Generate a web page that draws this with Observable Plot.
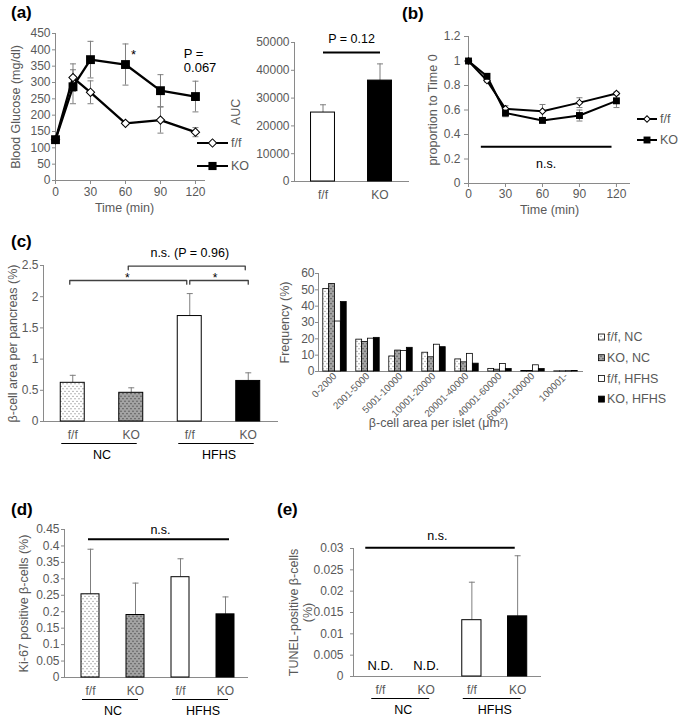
<!DOCTYPE html>
<html><head><meta charset="utf-8">
<script src="https://cdn.jsdelivr.net/npm/d3@7"></script>
<script src="https://cdn.jsdelivr.net/npm/@observablehq/plot@0.6"></script>
<style>
body{margin:0;background:#fff;}
#root{position:relative;width:685px;height:717px;overflow:hidden;font-family:"Liberation Sans",Arial,Helvetica,sans-serif;background:#fff;}
#root > svg{position:absolute;left:0;top:0;}
.lab{position:absolute;font-weight:bold;font-size:17px;color:#000;line-height:1;}
</style></head><body>
<svg width="0" height="0" style="position:absolute">
<defs>
<pattern id="dotW" width="4" height="5" patternUnits="userSpaceOnUse"><rect width="4" height="5" fill="#fff"/><circle cx="1" cy="1.2" r="0.55" fill="#555"/><circle cx="3" cy="3.7" r="0.55" fill="#555"/></pattern>
<pattern id="dotG" width="4" height="5" patternUnits="userSpaceOnUse"><rect width="4" height="5" fill="#a3a3a3"/><circle cx="1" cy="1.2" r="0.6" fill="#333"/><circle cx="3" cy="3.7" r="0.6" fill="#333"/></pattern>
</defs></svg>
<div id="root"></div>
<script>
// ---------- DATA ----------
// (a) glucose tolerance
const timesMin = [0, 15, 30, 60, 90, 120];
const glucoseFF = [125, 315, 270, 175, 185, 148];
const glucoseFFErr = [8, 42, 35, 5, 40, 14];
const glucoseKO = [125, 287, 370, 355, 275, 257];
const glucoseKOErr = [8, 52, 56, 63, 49, 47];
const glucoseTicks = [0, 50, 100, 150, 200, 250, 300, 350, 400, 450];
const timeTicks = [0, 30, 60, 90, 120];
const genotypes = ["f/f", "KO"];
const glucoseStar = [{t: 67, v: 385, label: "*"}];
const glucoseP = [{t: 110, v: 367, label: "P =\n0.067"}];
// (a) AUC
const aucValues = [24800, 36300];
const aucErr = [2800, 6000];
const aucTicks = [0, 10000, 20000, 30000, 40000, 50000];
const aucP = [{from: "f/f", to: "KO", y: 46400, label: "P = 0.12"}];
// (b) insulin tolerance
const ratioFF = [1, 0.84, 0.61, 0.59, 0.66, 0.735];
const ratioFFErr = [0, 0.012, 0.025, 0.055, 0.04, 0.012];
const ratioKO = [1, 0.875, 0.575, 0.515, 0.555, 0.675];
const ratioKOErr = [0, 0.012, 0.03, 0.018, 0.045, 0.055];
const ratioTicks = [0, 0.2, 0.4, 0.6, 0.8, 1, 1.2];
const ratioNS = [{t1: 10, t2: 116, y: 0.3, label: "n.s."}];
// (c)-(e) groups
const groupGenotype = ["f/f", "KO", "f/f", "KO"];
const groupDiet = ["NC", "NC", "HFHS", "HFHS"];
const diets = ["NC", "HFHS"];
const areaPancreas = [0.62, 0.46, 1.69, 0.65];
const areaPancreasErr = [0.12, 0.08, 0.36, 0.13];
const areaTicks = [0, 0.5, 1, 1.5, 2, 2.5];
const areaBrackets = [
  {from: 0, to: 2, y: 2.26, label: "*"},
  {from: 1, to: 3, y: 2.49, label: "n.s. (P = 0.96)"},
  {from: 2, to: 3, y: 2.26, label: "*"}
];
// (c) islet size histogram
const isletBins = ["0-2000", "2001-5000", "5001-10000", "10001-20000", "20001-40000", "40001-60000", "60001-100000", "100001-"];
const histSeries = ["f/f, NC", "KO, NC", "f/f, HFHS", "KO, HFHS"];
const freqFFNC = [50.5, 19.5, 9.2, 11.5, 7.4, 1.6, 0.3, 0.1];
const freqKONC = [53.6, 18.1, 12.8, 8.7, 5.6, 1.1, 0.3, 0.1];
const freqFFHFHS = [30.6, 20.1, 12.6, 16.4, 10.8, 4.6, 3.8, 0.2];
const freqKOHFHS = [42.5, 20.6, 14.5, 14.9, 4.8, 1.5, 1.5, 0.3];
const freqTicks = [0, 10, 20, 30, 40, 50, 60];
// (d) Ki-67
const ki67 = [0.253, 0.190, 0.305, 0.192];
const ki67Err = [0.137, 0.097, 0.056, 0.053];
const ki67Ticks = [0, 0.05, 0.1, 0.15, 0.2, 0.25, 0.3, 0.35, 0.4, 0.45];
const ki67NS = [{from: 0, to: 3, y: 0.42, label: "n.s."}];
// (e) TUNEL
const tunel = [null, null, 0.0132, 0.0141];
const tunelErr = [null, null, 0.0089, 0.0142];
const tunelTicks = [0, 0.005, 0.01, 0.015, 0.02, 0.025, 0.03];
const tunelNS = [{from: 0, to: 3, y: 0.0302, label: "n.s."}];

// ---------- STYLE ----------
const W = 685, H = 717;
const FONT = '"Liberation Sans", Arial, Helvetica, sans-serif';
const AX = "#8a8a8a", TXT = "#595959", ERR = "#7f7f7f";
const groupKeys = groupGenotype.map((g, i) => g + " " + groupDiet[i]);
const genoOf = Object.fromEntries(groupKeys.map((k, i) => [k, groupGenotype[i]]));
const groupFill = {"f/f NC": "url(#dotW)", "KO NC": "url(#dotG)", "f/f HFHS": "#fff", "KO HFHS": "#000"};
const histFill = ["url(#dotW)", "url(#dotG)", "#fff", "#000"];
const fmt = d3.format("~g");
const capSymbol = {draw(ctx, size) { const w = Math.sqrt(size / Math.PI); ctx.moveTo(-w, 0); ctx.lineTo(w, 0); }};

function base(l, r, t, b) {
  return {width: W, height: H, marginLeft: l, marginRight: W - r, marginTop: t, marginBottom: H - b,
    style: {background: "transparent", fontFamily: FONT, fontSize: "12px", color: TXT, overflow: "visible"}};
}
function yTitle(text, dx, extra = {}) {
  return Plot.text([text], {text: d => d, frameAnchor: "left", textAnchor: "middle", rotate: -90, dx, fill: TXT, fontSize: 12.5, ...extra});
}
function errMarks(rows, xk, both) {
  const r = rows.filter(d => d.e);
  const m = [
    Plot.ruleX(r, {x: xk, y1: d => both ? d.v - d.e : d.v, y2: d => d.v + d.e, stroke: ERR, strokeWidth: 1}),
    Plot.dot(r, {x: xk, y: d => d.v + d.e, symbol: capSymbol, r: 3, fill: "none", stroke: ERR, strokeWidth: 1})
  ];
  if (both) m.push(Plot.dot(r, {x: xk, y: d => d.v - d.e, symbol: capSymbol, r: 3, fill: "none", stroke: ERR, strokeWidth: 1}));
  return m;
}
const root = document.getElementById("root");
function add(svg) { root.appendChild(svg); return svg; }

// ---------- (a) glucose line ----------
const glucRows = timesMin.flatMap((t, i) => [
  {t, v: glucoseFF[i], e: glucoseFFErr[i], g: genotypes[0]},
  {t, v: glucoseKO[i], e: glucoseKOErr[i], g: genotypes[1]}]);
add(Plot.plot({...base(55, 205, 33, 180),
  x: {domain: [0, 128.6]}, y: {domain: [0, 450]},
  marks: [
    Plot.ruleY([0], {stroke: AX}), Plot.ruleX([0], {stroke: AX}),
    Plot.axisY({ticks: glucoseTicks, tickSize: 3, tickPadding: 2, label: null, stroke: AX, fill: TXT, fontSize: 12}),
    Plot.axisX({ticks: timeTicks, tickSize: 4, tickPadding: 3, label: null, stroke: AX, fill: TXT, fontSize: 12}),
    ...errMarks(glucRows, "t", true),
    Plot.line(glucRows, {x: "t", y: "v", z: "g", stroke: "#000", strokeWidth: 2.3}),
    Plot.dot(glucRows.filter(d => d.g === "f/f"), {x: "t", y: "v", symbol: "square", rotate: 45, r: 3.3, fill: "#fff", stroke: "#000", strokeWidth: 1}),
    Plot.dot(glucRows.filter(d => d.g === "KO"), {x: "t", y: "v", symbol: "square", r: 5, fill: "#000"}),
    Plot.text(glucoseStar, {x: "t", y: "v", text: "label", fill: "#000", fontSize: 13}),
    Plot.text(glucoseP, {x: "t", y: "v", text: "label", fill: "#000", fontSize: 13, textAnchor: "start", lineHeight: 1.1}),
    yTitle("Blood Glucose (mg/dl)", -40),
    Plot.text(["Time (min)"], {text: d => d, frameAnchor: "bottom", dy: 31, dx: -6, fill: TXT, fontSize: 12.5})
  ]}));

// ---------- (a) AUC ----------
const aucRows = genotypes.map((g, i) => ({k: g, v: aucValues[i], e: aucErr[i]}));
add(Plot.plot({...base(294, 408, 42, 181),
  x: {type: "band", domain: genotypes, paddingInner: 0.58, paddingOuter: 0.29, round: false},
  y: {domain: [0, 50000]}, color: {type: "identity"},
  marks: [
    Plot.frame({anchor: "left", stroke: AX}), Plot.frame({anchor: "bottom", stroke: AX}),
    Plot.axisY({ticks: aucTicks, tickSize: 3, tickPadding: 2, label: null, stroke: AX, fill: TXT, fontSize: 12, tickFormat: fmt}),
    Plot.axisX({tickSize: 0, tickPadding: 9, label: null, fill: TXT, fontSize: 12}),
    ...errMarks(aucRows, "k", false),
    Plot.barY(aucRows, {x: "k", y: "v", fill: d => d.k === "KO" ? "#000" : "#fff", stroke: "#000", strokeWidth: 1}),
    Plot.link(aucP, {x1: "from", x2: "to", y1: "y", y2: "y", stroke: "#000", strokeWidth: 2}),
    Plot.text(aucP, {x: "from", y: "y", text: "label", dx: 28.5, dy: -14, fill: "#000", fontSize: 12.5}),
    yTitle("AUC", -59)
  ]}));

// ---------- (b) ratio line ----------
const ratioRows = timesMin.flatMap((t, i) => [
  {t, v: ratioFF[i], e: ratioFFErr[i], g: genotypes[0]},
  {t, v: ratioKO[i], e: ratioKOErr[i], g: genotypes[1]}]);
add(Plot.plot({...base(468, 630, 36, 183),
  x: {domain: [0, 131.4]}, y: {domain: [0, 1.2]},
  marks: [
    Plot.ruleY([0], {stroke: AX}), Plot.ruleX([0], {stroke: AX}),
    Plot.axisY({ticks: ratioTicks, tickSize: 4, tickPadding: 4, label: null, stroke: AX, fill: TXT, fontSize: 12, tickFormat: fmt}),
    Plot.axisX({ticks: timeTicks, tickSize: 4, tickPadding: 2, label: null, stroke: AX, fill: TXT, fontSize: 12}),
    ...errMarks(ratioRows, "t", true),
    Plot.line(ratioRows, {x: "t", y: "v", z: "g", stroke: "#000", strokeWidth: 2}),
    Plot.dot(ratioRows.filter(d => d.g === "f/f"), {x: "t", y: "v", symbol: "square", rotate: 45, r: 2.6, fill: "#fff", stroke: "#000", strokeWidth: 1}),
    Plot.dot(ratioRows.filter(d => d.g === "KO"), {x: "t", y: "v", symbol: "square", r: 3.9, fill: "#000"}),
    Plot.link(ratioNS, {x1: "t1", x2: "t2", y1: "y", y2: "y", stroke: "#000", strokeWidth: 2}),
    Plot.text(ratioNS, {x: d => (d.t1 + d.t2) / 2, y: "y", text: "label", dy: 17, fill: "#000", fontSize: 12.5}),
    yTitle("proportion to Time 0", -36),
    Plot.text(["Time (min)"], {text: d => d, frameAnchor: "bottom", dy: 30, fill: TXT, fontSize: 12.5})
  ]}));

// ---------- helper for group bar charts (c, d, e) ----------
function groupChart({l, r, t, b, range, pad, domain, ticks, values, errs, title, padY, extra = []}) {
  const rows = groupKeys.map((k, i) => ({k, v: values[i], e: errs[i]}));
  const x0 = range ? range[0] : l, x1 = range ? range[1] : r;
  const step = (x1 - x0) / groupKeys.length;
  const groups = diets.map(d => {
    const idx = groupKeys.map((k, i) => i).filter(i => groupDiet[i] === d);
    return {diet: d, from: groupKeys[idx[0]], to: groupKeys[idx[idx.length - 1]]};
  });
  const marks = [
    Plot.frame({anchor: "left", stroke: AX}), Plot.frame({anchor: "bottom", stroke: AX}),
    Plot.axisY({ticks, tickSize: 3, tickPadding: padY, label: null, stroke: AX, fill: TXT, fontSize: 12, tickFormat: fmt}),
    Plot.axisX({tickSize: 0, tickPadding: 9, label: null, fill: TXT, fontSize: 12, tickFormat: k => genoOf[k]}),
    ...errMarks(rows.filter(d => d.v != null), "k", false),
    Plot.barY(rows.filter(d => d.v != null), {x: "k", y: "v", fill: d => groupFill[d.k], stroke: "#000", strokeWidth: 1}),
    Plot.ruleY(groups, {x1: "from", x2: "to", y: () => 0, dy: 22, insetLeft: 1, insetRight: 6, stroke: "#000", strokeWidth: 1}),
    Plot.text(groups, {x: "from", y: () => 0, text: "diet", dx: step / 2, dy: 33, fill: "#000", fontSize: 12.5}),
    ...extra(rows, step),
    title
  ];
  return add(Plot.plot({...base(l, r, t, b), color: {type: "identity"},
    x: {type: "band", domain: groupKeys, paddingInner: pad, paddingOuter: pad / 2, round: false, ...(range ? {range} : {})},
    y: {domain}, marks}));
}
// shift each text of a text mark horizontally by a per-datum amount
function shiftTexts(svg, markIndex, shifts) {
  const g = svg.querySelectorAll("g[aria-label='text']")[markIndex];
  if (!g) return;
  [...g.querySelectorAll("text")].forEach((tn, j) => {
    tn.setAttribute("transform", (tn.getAttribute("transform") || "") + ` translate(${shifts[j]},0)`);
  });
}

// ---------- (c) beta-cell area per pancreas ----------
{
  const starLabels = areaBrackets.filter(d => d.label === "*");
  const otherLabels = areaBrackets.filter(d => d.label !== "*");
  const bracketRows = (list) => list.flatMap((br) => {
    const i = areaBrackets.indexOf(br);
    return [
      {i, x: groupKeys[br.from], y: br.y - 0.06}, {i, x: groupKeys[br.from], y: br.y},
      {i, x: groupKeys[br.to], y: br.y}, {i, x: groupKeys[br.to], y: br.y - 0.06}];
  });
  const svg = groupChart({l: 43, r: 277, t: 265, b: 421, pad: 0.59, domain: [0, 2.5], ticks: areaTicks,
    values: areaPancreas, errs: areaPancreasErr, padY: 2,
    title: yTitle("β-cell area per pancreas (%)", -31),
    extra: (rows, step) => [
      Plot.line(bracketRows(areaBrackets.slice(0, 2)), {x: "x", y: "y", z: "i", stroke: "#404040", strokeWidth: 1.3, dx: -3}),
      Plot.line(bracketRows(areaBrackets.slice(2)), {x: "x", y: "y", z: "i", stroke: "#404040", strokeWidth: 1.3, dx: 0}),
      Plot.text(starLabels, {x: d => groupKeys[d.from], y: "y", text: "label", dy: -2, fill: "#000", fontSize: 12}),
      Plot.text(otherLabels, {x: d => groupKeys[d.from], y: "y", text: "label", dy: -13, fill: "#000", fontSize: 12.5})
    ]});
  const step = (277 - 43) / 4;
  // text marks in svg order: group labels=0, stars=1, others=2, title=3
  shiftTexts(svg, 1, starLabels.map(d => (d.to - d.from) * step / 2 - 4));
  shiftTexts(svg, 2, otherLabels.map(d => (d.to - d.from) * step / 2));
}

// ---------- (c) histogram ----------
{
  const l = 318, r = 582, padI = 0.29;
  const bw = (r - l) / isletBins.length * (1 - padI), w = bw / 4;
  const series = [freqFFNC, freqKONC, freqFFHFHS, freqKOHFHS];
  add(Plot.plot({...base(l, r, 273, 371),
    x: {type: "band", domain: isletBins, paddingInner: padI, paddingOuter: padI / 2, round: false},
    y: {domain: [0, 60]}, color: {type: "identity"},
    marks: [
      Plot.frame({anchor: "left", stroke: AX}), Plot.frame({anchor: "bottom", stroke: AX}),
      Plot.axisY({ticks: freqTicks, tickSize: 3, tickPadding: 1, label: null, stroke: AX, fill: TXT, fontSize: 12}),
      Plot.axisX({tickSize: 0, tickPadding: 3, tickRotate: -45, textAnchor: "end", label: null, fill: TXT, fontSize: 9.8}),
      ...series.map((s, k) => Plot.barY(isletBins.map((bin, i) => ({bin, v: s[i]})), {
        x: "bin", y: "v", insetLeft: k * w, insetRight: (3 - k) * w, fill: histFill[k], stroke: "#000", strokeWidth: 0.8})),
      yTitle("Frequency (%)", -34),
      Plot.text(["β-cell area per islet (μm²)"], {text: d => d, frameAnchor: "bottom", dy: 55, dx: -12, fill: TXT, fontSize: 12.5})
    ]}));
}

// ---------- (d) Ki-67 ----------
groupChart({l: 64, r: 247, t: 529, b: 677, range: [67.5, 247.5], pad: 0.6, domain: [0, 0.45], ticks: ki67Ticks,
  values: ki67, errs: ki67Err, padY: 2,
  title: yTitle("Ki-67 positive β-cells (%)", -41),
  extra: (rows, step) => [
    Plot.ruleY(ki67NS, {x1: d => groupKeys[d.from], x2: d => groupKeys[d.to], y: "y", insetLeft: 7, insetRight: 5, stroke: "#000", strokeWidth: 2}),
    Plot.text(ki67NS, {x: d => groupKeys[d.from], y: "y", text: "label", dx: 70, dy: -9, fill: "#000", fontSize: 12.5})
  ]});

// ---------- (e) TUNEL ----------
groupChart({l: 353, r: 540, t: 548, b: 676, range: [357, 540], pad: 0.58, domain: [0, 0.03], ticks: tunelTicks,
  values: tunel, errs: tunelErr, padY: 7,
  title: yTitle("TUNEL-positive β-cells\n(%)", -53, {lineHeight: 1.12}),
  extra: (rows, step) => [
    Plot.ruleY(tunelNS, {x1: d => groupKeys[d.from], x2: d => groupKeys[d.to], y: "y", insetLeft: -5, insetRight: 12, stroke: "#000", strokeWidth: 2}),
    Plot.text(tunelNS, {x: d => groupKeys[d.from], y: "y", text: "label", dx: 57, dy: -12, fill: "#000", fontSize: 12.5}),
    Plot.text(rows.filter(d => d.v == null), {x: "k", y: () => 0, text: () => "N.D.", dy: -11, fill: "#000", fontSize: 13})
  ]});

// ---------- legends ----------
const leg = d3.select(root).append("svg").attr("width", W).attr("height", H)
  .style("font-family", FONT).style("font-size", "12.5px");
function lineLegend(x0, len, ys, sizes) {
  genotypes.forEach((g, i) => {
    const y = ys[i], xm = x0 + len / 2;
    leg.append("line").attr("x1", x0).attr("x2", x0 + len).attr("y1", y).attr("y2", y).attr("stroke", "#000").attr("stroke-width", 2);
    if (i === 0) leg.append("path").attr("d", d3.symbol(d3.symbolSquare, Math.PI * sizes[0] ** 2)())
      .attr("transform", `translate(${xm},${y}) rotate(45)`).attr("fill", "#fff").attr("stroke", "#000");
    else leg.append("path").attr("d", d3.symbol(d3.symbolSquare, Math.PI * sizes[1] ** 2)())
      .attr("transform", `translate(${xm},${y})`).attr("fill", "#000");
    leg.append("text").attr("x", x0 + len + 3).attr("y", y).attr("dy", "0.35em").attr("fill", TXT).text(g);
  });
}
lineLegend(197, 31, [143, 166], [3.3, 4.6]);
lineLegend(637, 20, [119, 140], [2.6, 3.9]);
histSeries.forEach((s, k) => {
  const y = 337 + k * 20.7;
  leg.append("rect").attr("x", 598.5).attr("y", y - 3).attr("width", 6).attr("height", 6)
    .attr("fill", histFill[k]).attr("stroke", "#000").attr("stroke-width", 0.8);
  leg.append("text").attr("x", 607).attr("y", y).attr("dy", "0.35em").attr("fill", TXT).text(s);
});

// ---------- panel letters ----------
[["(a)", 11, 4], ["(b)", 402, 5], ["(c)", 11, 233], ["(d)", 11, 501], ["(e)", 277, 501]].forEach(([t, x, y]) => {
  const d = document.createElement("div"); d.className = "lab"; d.style.left = x + "px"; d.style.top = y + "px"; d.textContent = t; root.appendChild(d);
});
</script>
</body></html>
